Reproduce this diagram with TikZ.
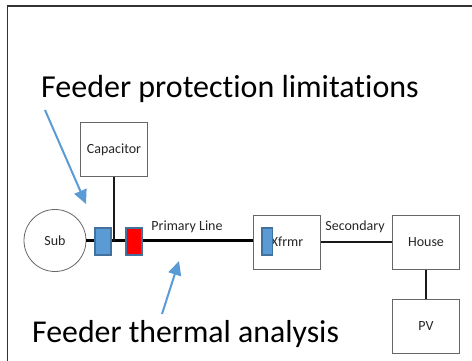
\documentclass[tikz,border=0pt]{standalone}
\usepackage{fontspec}
\setmainfont[Ligatures={NoCommon}]{Carlito}
\usetikzlibrary{arrows.meta}
\definecolor{txt}{HTML}{262626}
\definecolor{bluef}{HTML}{5B9BD5}
\definecolor{blued}{HTML}{41719C}
\tikzset{
  x=1pt,y=-1pt,
  boxn/.style={draw=black!60,line width=1pt,fill=white,minimum width=67pt,minimum height=54pt,inner sep=0pt,text=txt,font=\fontsize{14}{16}\selectfont},
  subn/.style={draw=black!60,line width=0.8pt,fill=white,circle,minimum size=62pt,inner sep=0pt,text=txt,font=\fontsize{14}{16}\selectfont},
  breaker/.style={draw=blued,line width=1.8pt,minimum width=15.6pt,minimum height=26.6pt,inner sep=0pt},
  wire/.style={draw=black!90,line width=2pt},
  heavy/.style={draw=black,line width=2.5pt},
  callout/.style={inner sep=0pt,anchor=base west},
  pointer/.style={draw=bluef,line width=2pt,-{Triangle[length=14pt,width=13pt]}},
  linelabel/.style={font=\fontsize{14}{16}\selectfont,text=txt,inner sep=0pt}
}
\begin{document}
\begin{tikzpicture}
\useasboundingbox (0,0) rectangle (472,361);
\coordinate (frameTR) at (472,6);
\coordinate (frameTL) at (7.5,6);
\coordinate (frameBL) at (7.5,361);
\draw[black!80,line width=1.1pt] (frameBL) -- (frameTL) -- (frameTR);
\node[subn] (sub) at (55,240.5) {Sub};
\node[boxn] (cap) at (114,149.5) {Capacitor};
\node[boxn] (xfmr) at (287,242) {Xfrmr};
\node[boxn] (house) at (426,242) {House};
\node[boxn] (pv) at (426,326) {PV};
\coordinate (tap) at (113.5,240.5);
\node[breaker,fill=bluef] (bk1) at (103,241.5) {};
\node[breaker,fill=red,minimum width=16.2pt] (bk2) at (133.7,241.5) {};
\draw[heavy] (sub.east) -- (bk1.west |- tap);
\draw[heavy] (bk1.east |- tap) -- (bk2.west |- tap);
\draw[heavy] (bk2.east |- tap) -- (xfmr.west |- tap);
\draw[wire] (cap.south -| tap) -- (tap);
\draw[wire] (xfmr.east) -- (house.west);
\draw[wire] (house.south) -- (pv.north);
\node[breaker,fill=bluef,minimum width=10.5pt] (bk3) at (267.2,241.5) {};
\node[linelabel] (prim) at (187,227) {Primary Line};
\node[linelabel] (sec) at (355,227) {Secondary};
\node[callout,font=\fontsize{32}{34}\selectfont] (t1) at (41,98) {Feeder protection limitations};
\node[callout,font=\fontsize{31.8}{34}\selectfont] (t2) at (32,342.5) {Feeder thermal analysis};
\coordinate (a1s) at (45,110);
\coordinate (a1e) at (86,204);
\coordinate (a2s) at (162,314);
\coordinate (a2e) at (179,261);
\draw[pointer] (a1s) -- (a1e);
\draw[pointer] (a2s) -- (a2e);
\end{tikzpicture}
\end{document}
